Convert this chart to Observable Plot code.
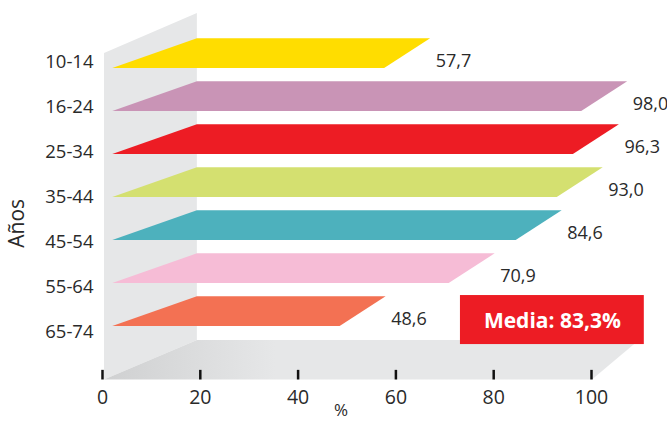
<!DOCTYPE html>
<html>
<head>
<meta charset="utf-8">
<script src="https://cdn.jsdelivr.net/npm/d3@7"></script>
<script src="https://cdn.jsdelivr.net/npm/@observablehq/plot@0.6"></script>
<style>
  html, body { margin: 0; padding: 0; background: #fff; }
  svg { display: block; }
</style>
</head>
<body>
<div id="chart"></div>
<script>
// ---- data ----
const categories = ["10-14", "16-24", "25-34", "35-44", "45-54", "55-64", "65-74"];
const values = [57.7, 98.0, 96.3, 93.0, 84.6, 70.9, 48.6];
const colors = ["#ffdd00", "#c994b6", "#ed1c24", "#d4e070", "#4db1bd", "#f6bcd6", "#f37153"];
const xTicks = [0, 20, 40, 60, 80, 100];
const media = 83.3;
const xLabel = "%";
const yLabel = "Años";

// ---- layout / style constants (pseudo-3D geometry, in scale units) ----
const G = {
  frontLeft: 2.1,      // x where the front edge of bars starts
  backLeft: 19.4,      // x of the back wall plane
  backShift: 9.4,      // extra x at the back edge of each bar
  depth: 0.69,         // y (row units) between front and back edge
  wallFront: 0.41,
  wallTopFront: -0.349, wallTopBack: -1.279,
  floorFront: 7.244, floorBack: 6.326,
  floorRightFront: 100.2, floorRightBack: 109.8,
  tickTop: 7.02,
  labelStep: 45 / 43, labelShift: -0.14,
  box: {x1: 73.2, x2: 110.8, y1: 5.28, y2: 6.42}
};

const fmt = v => d3.format(".1f")(v).replace(".", ",");
const rows = categories.map((c, i) => ({cat: c, i, v: values[i]}));

const bars = rows.flatMap(r => [
  {cat: r.cat, y: r.i, x1: G.frontLeft, x2: r.v},
  {cat: r.cat, y: r.i - G.depth, x1: G.backLeft, x2: r.v + G.backShift}
]);
const wall = [
  {x: G.wallFront, y1: G.wallTopFront, y2: G.floorFront},
  {x: G.backLeft, y1: G.wallTopBack, y2: G.floorBack}
];
const floor = [
  {y: G.floorFront, x1: G.wallFront, x2: G.floorRightFront},
  {y: G.floorBack, x1: G.backLeft, x2: G.floorRightBack}
];

const font = "'Open Sans', 'Noto Sans', sans-serif";
const ink = "#2a2a2a";

const svg = Plot.plot({
  width: 667,
  height: 423,
  marginLeft: 102,
  marginRight: 76,
  marginTop: 10,
  marginBottom: 44,
  style: {fontFamily: font, background: "#fff", overflow: "visible"},
  x: {domain: [0, 100], axis: null},
  y: {domain: [0, 6], range: [68, 326], axis: null},
  color: {domain: categories, range: colors},
  marks: [
    Plot.areaY(wall, {x: "x", y1: "y1", y2: "y2", fill: "#e6e7e8", curve: "linear"}),
    Plot.areaX(floor, {y: "y", x1: "x1", x2: "x2", fill: "url(#floorGrad)", curve: "linear"}),
    Plot.ruleX(xTicks, {x: d => d, y1: G.tickTop, y2: G.floorFront, stroke: "#111", strokeWidth: 2.5}),
    Plot.text(xTicks, {x: d => d, frameAnchor: "bottom", lineAnchor: "middle", dy: 18,
      text: d => String(d), fontSize: 19.5, fill: ink}),
    Plot.text([xLabel], {frameAnchor: "bottom", lineAnchor: "middle", textAnchor: "middle",
      dx: -6, dy: 31, fontSize: 17, fill: ink}),
    Plot.areaX(bars, {y: "y", x1: "x1", x2: "x2", z: "cat", fill: "cat", curve: "linear"}),
    Plot.text(rows, {frameAnchor: "left", y: r => r.i * G.labelStep + G.labelShift, text: "cat",
      textAnchor: "end", dx: -9, fontSize: 18.5, fill: ink}),
    Plot.text(rows, {x: "v", y: "i", text: r => fmt(r.v), textAnchor: "start", dx: 51, dy: -7,
      fontSize: 18, fill: ink}),
    Plot.text([yLabel], {frameAnchor: "left", textAnchor: "middle", lineAnchor: "middle",
      y: 3.6, rotate: -90, dx: -85, fontSize: 21, fill: ink}),
    Plot.rect([media], {x1: G.box.x1, x2: G.box.x2, y1: G.box.y1, y2: G.box.y2, fill: "#ed1c24"}),
    Plot.text([media], {x: (G.box.x1 + G.box.x2) / 2, y: (G.box.y1 + G.box.y2) / 2 + 0.02,
      text: d => `Media: ${fmt(d)}%`, fill: "#fff", fontWeight: 700, fontSize: 21})
  ]
});

// floor gradient
const ns = "http://www.w3.org/2000/svg";
const defs = document.createElementNS(ns, "defs");
defs.innerHTML = `<linearGradient id="floorGrad" x1="0" x2="0.32" y1="0" y2="0">
  <stop offset="0" stop-color="#cfd0d1"/><stop offset="1" stop-color="#e6e7e8"/></linearGradient>`;
svg.insertBefore(defs, svg.firstChild);

document.getElementById("chart").appendChild(svg);
</script>
</body>
</html>
